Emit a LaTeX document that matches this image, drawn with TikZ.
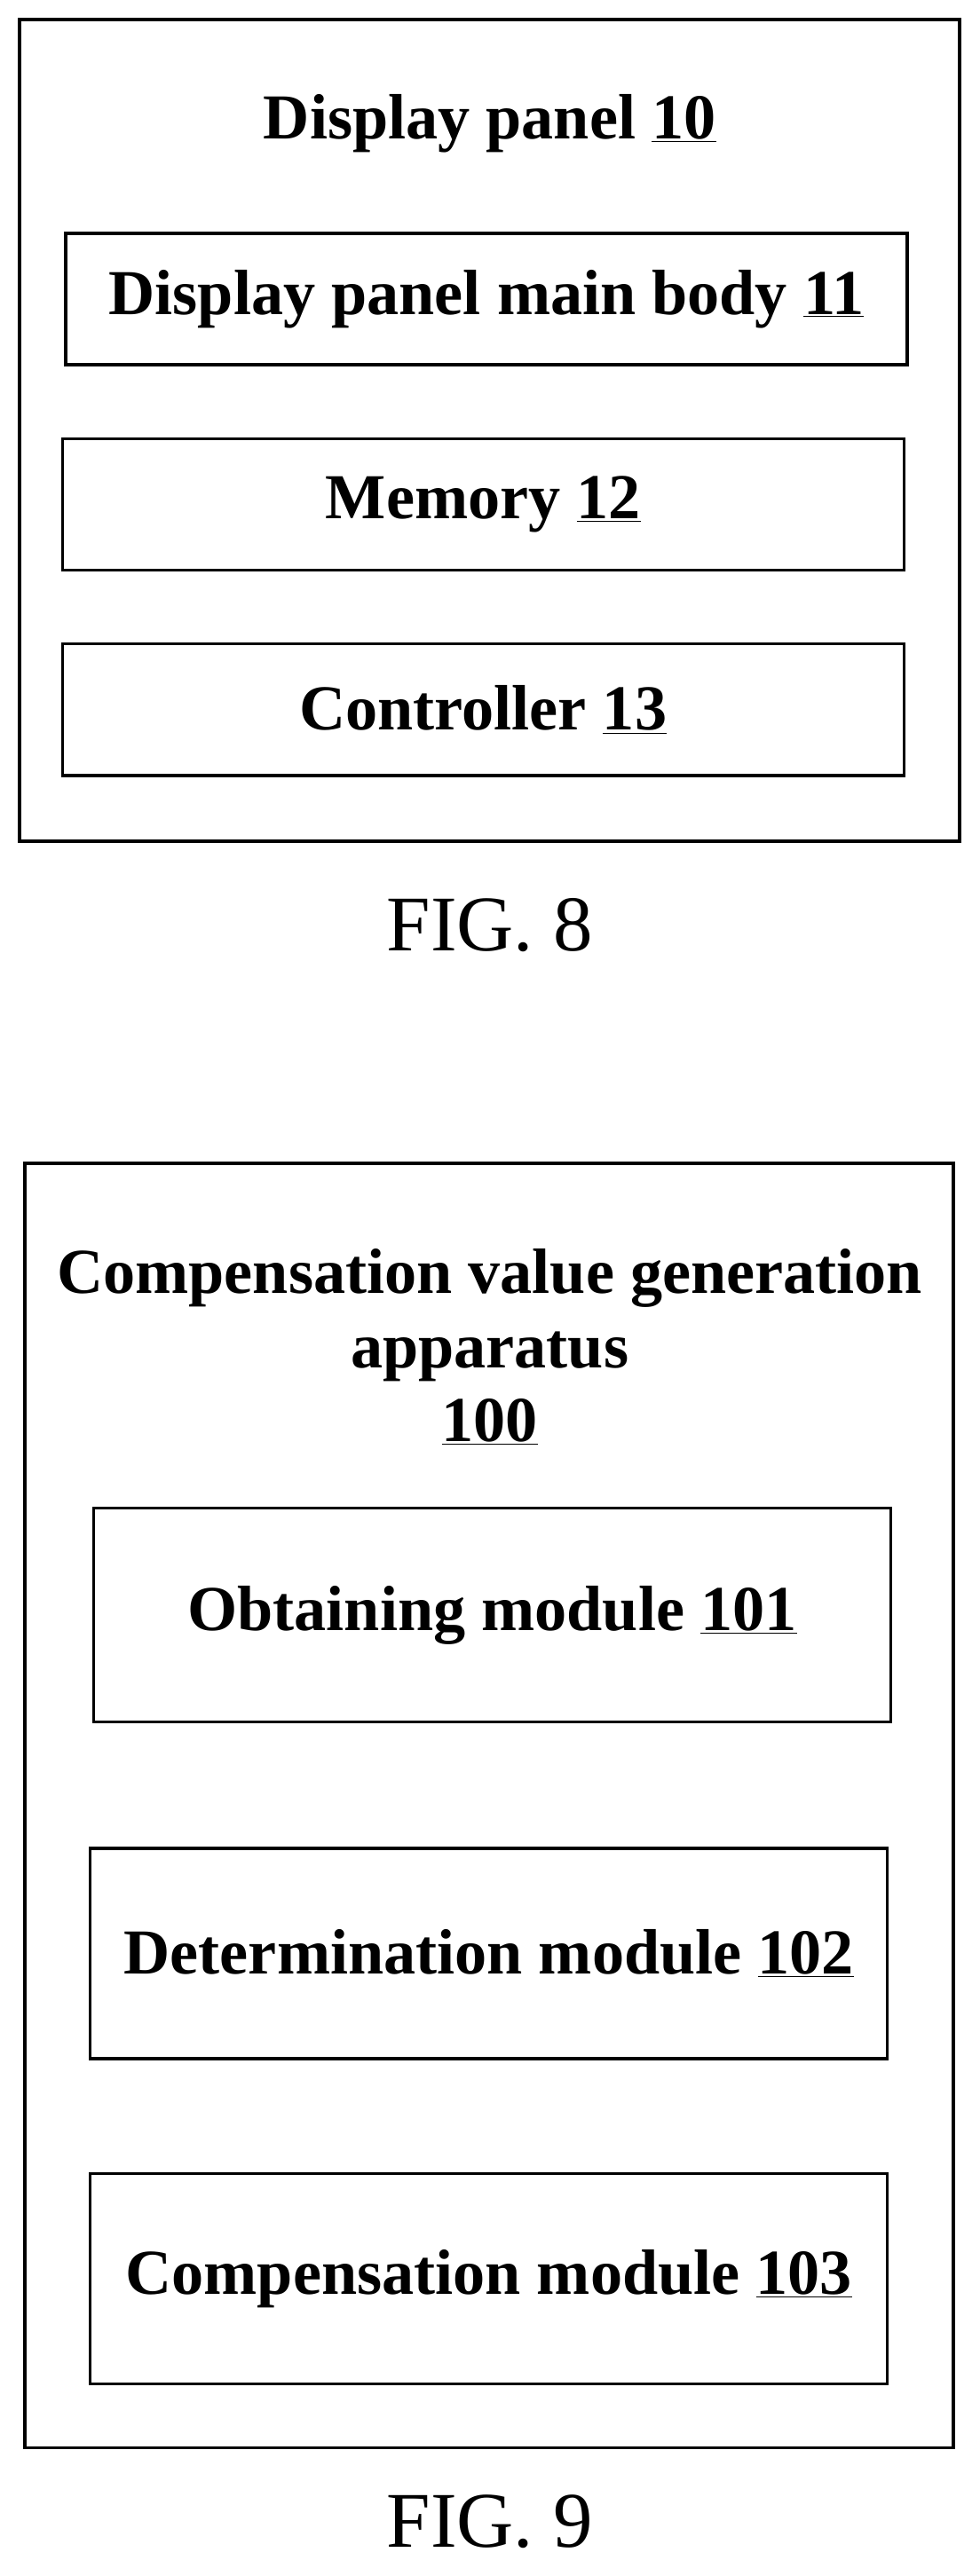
\documentclass[tikz,border=0pt]{standalone}
\usepackage{fontspec}
\setmainfont{Liberation Serif}
\usetikzlibrary{positioning}
\tikzset{
  outerbox/.style={draw,line width=2pt},
  modbox/.style={draw,line width=1.8pt,font=\fontsize{39}{45}\selectfont\bfseries},
  figlabel/.style={font=\fontsize{48}{54}\selectfont}
}
\begin{document}
\begin{tikzpicture}[x=1pt,y=-1pt]
\useasboundingbox (0,0) rectangle (596,1568);
% FIG. 8
\draw[outerbox] (12,12) rectangle (584,512);
\node (panel) [font=\fontsize{39}{45}\selectfont\bfseries] at (298,75) {Display panel \underline{10}};
\node (body) [modbox,minimum width=512pt,minimum height=80pt] at (296,182) {Display panel main body \underline{11}};
\node (mem) [modbox,minimum width=512pt,minimum height=80pt] at (294,307) {Memory \underline{12}};
\node (ctrl) [modbox,minimum width=512pt,minimum height=80pt] at (294,432) {Controller \underline{13}};
\node (fig8) [figlabel] at (298,563) {FIG. 8};
% FIG. 9
\draw[outerbox] (15,708) rectangle (580,1490);
\node (app) [font=\fontsize{39}{45}\selectfont\bfseries,align=center] at (298,820) {Compensation value generation\\apparatus\\\underline{100}};
\node (obt) [modbox,minimum width=485pt,minimum height=130pt] at (299.5,983) {Obtaining module \underline{101}};
\node (det) [modbox,minimum width=485pt,minimum height=128pt] at (297.5,1189) {Determination module \underline{102}};
\node (comp) [modbox,minimum width=485pt,minimum height=128pt] at (297.5,1387) {Compensation module \underline{103}};
\node (fig9) [figlabel] at (298,1535) {FIG. 9};
\end{tikzpicture}
\end{document}
